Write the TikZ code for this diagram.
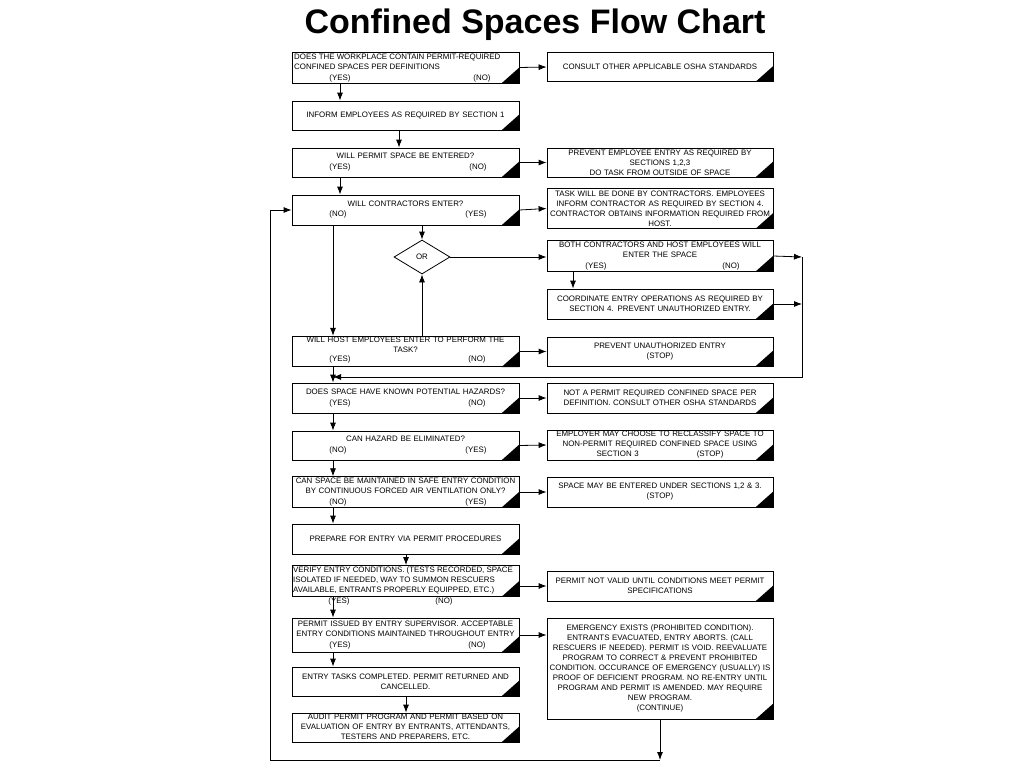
\documentclass[tikz,border=0pt]{standalone}
\usepackage{fontspec}
\setmainfont{Liberation Sans}
\usetikzlibrary{shapes.geometric,arrows.meta}
\begin{document}
\begin{tikzpicture}[x=1pt,y=-1pt,
  box/.style={draw,line width=0.8pt,inner sep=1pt,align=center,font=\fontsize{7.9}{10}\selectfont,text width=#1},
  box/.default=224pt,
  yn/.style={inner sep=0pt,font=\fontsize{7.9}{9}\selectfont},
  arr/.style={-{Latex[length=8pt,width=6pt]},line width=0.8pt},
  ln/.style={line width=0.8pt}]
\useasboundingbox (0,0) rectangle (1024,768);
\node[font=\bfseries\fontsize{34}{36}\selectfont] (title) at (535,25) {Confined Spaces Flow Chart};
% left column
\node[box,minimum width=227pt,minimum height=31pt] (b1) at (405.5,67.5) {};
\node[yn,align=left,anchor=north west,font=\fontsize{7.9}{10}\selectfont] (t1) at (294,54) {DOES THE WORKPLACE CONTAIN PERMIT-REQUIRED\\CONFINED SPACES PER DEFINITIONS};
\node[box,minimum width=227pt,minimum height=29pt] (b2) at (405.5,115.5) {INFORM EMPLOYEES AS REQUIRED BY SECTION 1};
\node[box,minimum width=227pt,minimum height=29pt] (b3) at (405.5,162.5) {WILL PERMIT SPACE BE ENTERED?\\\strut};
\node[box,minimum width=227pt,minimum height=30pt] (b4) at (405.5,210) {WILL CONTRACTORS ENTER?\\\strut};
\node[box,minimum width=227pt,minimum height=29pt] (b5) at (405.5,351.5) {WILL HOST EMPLOYEES ENTER TO PERFORM THE\\TASK?\\\strut};
\node[box,minimum width=227pt,minimum height=30pt] (b6) at (405.5,398) {DOES SPACE HAVE KNOWN POTENTIAL HAZARDS?\\\strut};
\node[box,minimum width=227pt,minimum height=29pt] (b7) at (405.5,445.5) {CAN HAZARD BE ELIMINATED?\\\strut};
\node[box,minimum width=227pt,minimum height=30pt] (b8) at (405.5,492) {CAN SPACE BE MAINTAINED IN SAFE ENTRY CONDITION\\BY CONTINUOUS FORCED AIR VENTILATION ONLY?\\\strut};
\node[box,minimum width=227pt,minimum height=30pt] (b9) at (405.5,539) {PREPARE FOR ENTRY VIA PERMIT PROCEDURES};
\node[draw,line width=0.8pt,minimum width=227pt,minimum height=31pt] (b10) at (405.5,581) {};
\node[yn,align=left,anchor=north west,font=\fontsize{7.9}{10}\selectfont] (t10) at (293,567) {VERIFY ENTRY CONDITIONS. (TESTS RECORDED, SPACE\\ISOLATED IF NEEDED, WAY TO SUMMON RESCUERS\\AVAILABLE, ENTRANTS PROPERLY EQUIPPED, ETC.)};
\node[box,minimum width=227pt,minimum height=34pt] (b11) at (405.5,635) {PERMIT ISSUED BY ENTRY SUPERVISOR. ACCEPTABLE\\ENTRY CONDITIONS MAINTAINED THROUGHOUT ENTRY\\\strut};
\node[box,minimum width=227pt,minimum height=29pt] (b12) at (405.5,681.5) {ENTRY TASKS COMPLETED. PERMIT RETURNED AND\\CANCELLED.};
\node[box,minimum width=227pt,minimum height=29pt] (b13) at (405.5,727.5) {AUDIT PERMIT PROGRAM AND PERMIT BASED ON\\EVALUATION OF ENTRY BY ENTRANTS, ATTENDANTS,\\TESTERS AND PREPARERS, ETC.};
% right column
\node[box,minimum width=226pt,minimum height=29pt] (r1) at (660,67) {CONSULT OTHER APPLICABLE OSHA STANDARDS};
\node[box,minimum width=226pt,minimum height=29pt] (r2) at (660,162.5) {PREVENT EMPLOYEE ENTRY AS REQUIRED BY\\SECTIONS 1,2,3\\DO TASK FROM OUTSIDE OF SPACE};
\node[box,minimum width=226pt,minimum height=40pt] (r3) at (660,208.5) {TASK WILL BE DONE BY CONTRACTORS. EMPLOYEES\\INFORM CONTRACTOR AS REQUIRED BY SECTION 4.\\CONTRACTOR OBTAINS INFORMATION REQUIRED FROM\\HOST.};
\node[box,minimum width=226pt,minimum height=30pt] (r4) at (660,256) {BOTH CONTRACTORS AND HOST EMPLOYEES WILL\\ENTER THE SPACE\\\strut};
\node[box,minimum width=226pt,minimum height=30pt] (r5) at (660,304) {COORDINATE ENTRY OPERATIONS AS REQUIRED BY\\SECTION 4. PREVENT UNAUTHORIZED ENTRY.};
\node[box,minimum width=226pt,minimum height=29pt] (r6) at (660,351.5) {PREVENT UNAUTHORIZED ENTRY\\(STOP)};
\node[box,minimum width=226pt,minimum height=30pt] (r7) at (660,398) {NOT A PERMIT REQUIRED CONFINED SPACE PER\\DEFINITION. CONSULT OTHER OSHA STANDARDS};
\node[box,minimum width=226pt,minimum height=30pt] (r8) at (660,445) {EMPLOYER MAY CHOOSE TO RECLASSIFY SPACE TO\\NON-PERMIT REQUIRED CONFINED SPACE USING\\SECTION 3\hspace{58pt}(STOP)};
\node[box,minimum width=226pt,minimum height=30pt] (r9) at (660,492) {SPACE MAY BE ENTERED UNDER SECTIONS 1,2 \& 3.\\(STOP)};
\node[box,minimum width=226pt,minimum height=30pt] (r10) at (660,586) {PERMIT NOT VALID UNTIL CONDITIONS MEET PERMIT\\SPECIFICATIONS};
\node[box,minimum width=226pt,minimum height=101pt] (r11) at (660,668.5) {EMERGENCY EXISTS (PROHIBITED CONDITION).\\ENTRANTS EVACUATED, ENTRY ABORTS. (CALL\\RESCUERS IF NEEDED). PERMIT IS VOID. REEVALUATE\\PROGRAM TO CORRECT \& PREVENT PROHIBITED\\CONDITION. OCCURANCE OF EMERGENCY (USUALLY) IS\\PROOF OF DEFICIENT PROGRAM. NO RE-ENTRY UNTIL\\PROGRAM AND PERMIT IS AMENDED. MAY REQUIRE\\NEW PROGRAM.\\(CONTINUE)};
\node[draw,line width=0.8pt,diamond,aspect=1.65,minimum width=56pt,minimum height=34pt,inner sep=0pt,font=\fontsize{7.9}{9}\selectfont] (or) at (422,257) {OR};
% corner triangles
\foreach \n in {b1,b2,b3,b4,b5,b6,b7,b8,b9,b10,b11,b12,b13,r1,r2,r3,r4,r5,r6,r7,r8,r9,r10,r11}
  \fill (\n.south east) -- ++(0,-16) -- ++(-18,16) -- cycle;
% yes/no labels
\node[yn] (y1) at (340,78) {(YES)}; \node[yn] (n1) at (482,78) {(NO)};
\node[yn] (y3) at (340,167) {(YES)}; \node[yn] (n3) at (478,167) {(NO)};
\node[yn] (n4) at (338,214) {(NO)}; \node[yn] (y4) at (476,214) {(YES)};
\node[yn] (y5) at (340,359) {(YES)}; \node[yn] (n5) at (477,359) {(NO)};
\node[yn] (y6) at (340,403) {(YES)}; \node[yn] (n6) at (477,403) {(NO)};
\node[yn] (n7) at (338,450) {(NO)}; \node[yn] (y7) at (476,450) {(YES)};
\node[yn] (n8) at (338,502) {(NO)}; \node[yn] (y8) at (476,502) {(YES)};
\node[yn] (y10) at (339,601) {(YES)}; \node[yn] (n10) at (444,601) {(NO)};
\node[yn] (y11) at (340,645) {(YES)}; \node[yn] (n11) at (477,645) {(NO)};
\node[yn] (y4r) at (596,266) {(YES)}; \node[yn] (n4r) at (731,266) {(NO)};
% connectors
\draw[arr] (b1.east) -- (r1.west);
\draw[arr] (b1.south -| y1) -- (b2.north -| y1);
\draw[arr] (b2.south -| 399,0) -- (b3.north -| 399,0);
\draw[arr] (b3.east) -- (r2.west);
\draw[arr] (b3.south -| y1) -- (b4.north -| y1);
\draw[arr] (b4.east) -- (r3.west);
\draw[arr] (b4.south -| 333,0) -- (b5.north -| 333,0);
\draw[arr] (b4.south -| or) -- (or.north);
\draw[arr] (b5.north -| or) -- (or.south);
\draw[arr] (or.east) -- (r4.west |- or.east);
\draw[arr] (r4.south -| 573,0) -- (r5.north -| 573,0);
\coordinate (c1) at (802,257);
\coordinate (c2) at (802,377);
\coordinate (c3) at (333,377);
\draw[arr] (r4.east) -- (c1);
\draw[arr] (r5.east) -- (r5.east -| c1);
\draw[arr] (c1) -- (c2) -- (c3);
\draw[arr] (b5.east) -- (r6.west);
\draw[arr] (b5.south -| 333,0) -- (b6.north -| 333,0);
\draw[arr] (b6.east) -- (r7.west);
\draw[arr] (b6.south -| 333,0) -- (b7.north -| 333,0);
\draw[arr] (b7.east) -- (r8.west);
\draw[arr] (b7.south -| 333,0) -- (b8.north -| 333,0);
\draw[arr] (b8.east) -- (r9.west);
\draw[arr] (b8.south -| 333,0) -- (b9.north -| 333,0);
\draw[arr] (b9.south -| 406,0) -- (b10.north -| 406,0);
\draw[arr] (b10.east |- r10.west) -- (r10.west);
\draw[arr] (b10.south -| 333,0) -- (b11.north -| 333,0);
\draw[arr] (b11.east) -- (b11.east -| r11.west);
\draw[arr] (b11.south -| 333,0) -- (b12.north -| 333,0);
\draw[arr] (b12.south -| 406,0) -- (b13.north -| 406,0);
\coordinate (d1) at (660,760);
\coordinate (d2) at (270,760);
\coordinate (d3) at (270,210);
\draw[arr] (r11.south) -- (d1);
\draw[arr] (d1) -- (d2) -- (d3) -- (b4.west);
\end{tikzpicture}
\end{document}
